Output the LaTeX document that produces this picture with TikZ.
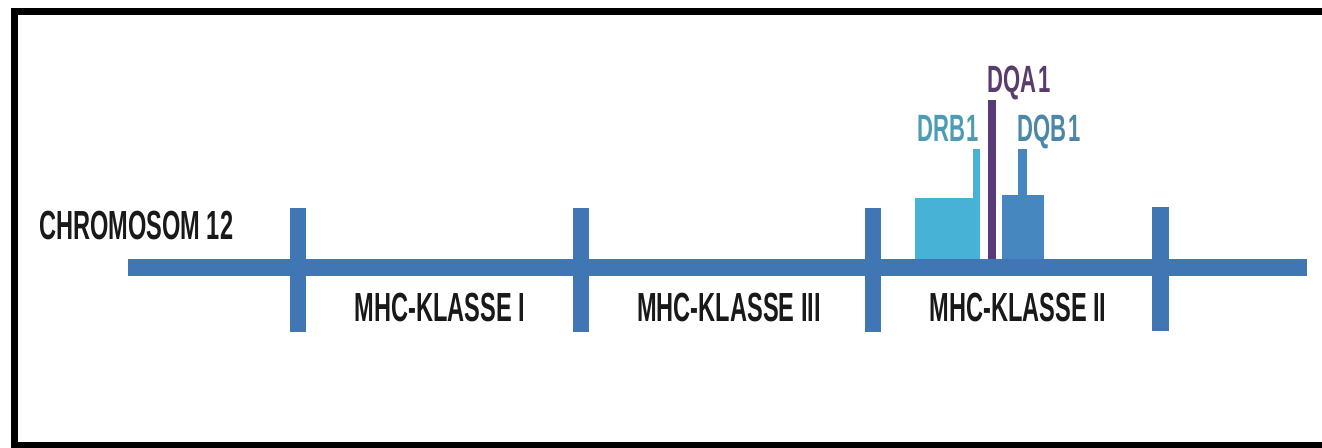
\documentclass[tikz,border=0pt]{standalone}
\usepackage{fontspec}
\newfontfamily\condfont{Liberation Sans Bold}[FakeStretch=0.58]
\definecolor{chrblue}{HTML}{4176B5}
\definecolor{drbbox}{HTML}{47B1D6}
\definecolor{dqbbox}{HTML}{4587BE}
\definecolor{dqaline}{HTML}{593A78}
\definecolor{drbtext}{HTML}{4C9DB4}
\definecolor{dqbtext}{HTML}{4C86A8}
\definecolor{dqatext}{HTML}{5A3B6E}
\tikzset{
  lbl/.style={inner sep=0pt, anchor=base, font=\condfont\fontsize{30.5}{32}\selectfont, text=black!90},
  genelbl/.style={inner sep=0pt, anchor=base, font=\condfont\fontsize{28.5}{30}\selectfont},
  frame/.style={line width=5.2pt, draw=black},
  chr/.style={fill=chrblue, draw=none}
}
\begin{document}
\begin{tikzpicture}[x=0.75pt,y=-0.75pt]
\useasboundingbox (0,0) rectangle (1322,448);
\fill[white] (0,0) rectangle (1322,448);
% frame (right side runs off the picture)
\draw[frame] (1330,11.5) -- (14.5,11.5) -- (14.5,445.5) -- (1330,445.5);
% genes
\fill[drbbox] (915,198) rectangle (980,262);
\fill[drbbox] (973,149) rectangle (980,198);
\fill[dqaline] (988,100) rectangle (996,262);
\fill[dqbbox] (1002,195) rectangle (1044,262);
\fill[dqbbox] (1018,149) rectangle (1027,195);
% chromosome bar and ticks
\fill[chr] (128,259) rectangle (1307,276);
\fill[chr] (290,208) rectangle (306,332);
\fill[chr] (573,208) rectangle (589,332);
\fill[chr] (865,208) rectangle (881,332);
\fill[chr] (1152,207) rectangle (1169,331);
% labels
\node[lbl, anchor=base west] (chrom) at (39,240) {CHROMOSOM 12};
\node[lbl] (k1) at (440,322) {MHC-KLASSE I};
\node[lbl] (k3) at (729,322) {MHC-KLASSE III};
\node[lbl] (k2) at (1018,322) {MHC-KLASSE II};
\node[genelbl, text=drbtext] (drb) at (948,142) {DRB\kern1pt1};
\node[genelbl, text=dqatext] (dqa) at (1019,93) {DQA\kern1pt1};
\node[genelbl, text=dqbtext] (dqb) at (1049,142) {DQB\kern1pt1};
\end{tikzpicture}
\end{document}
